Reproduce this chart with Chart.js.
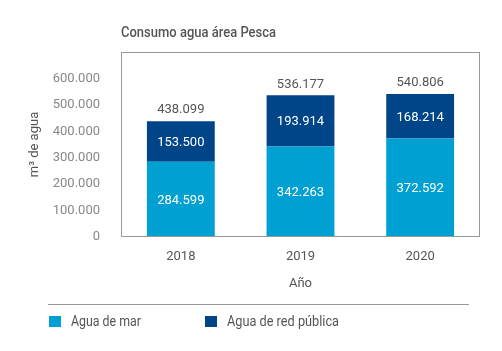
<!DOCTYPE html>
<html><head><meta charset="utf-8">
<script src="https://cdn.jsdelivr.net/npm/chart.js@4.4.0/dist/chart.umd.min.js"></script>
<style>
html,body{margin:0;padding:0;background:#fff;}
#wrap{position:relative;width:502px;height:351px;font-family:'Roboto',sans-serif;}
#c{position:absolute;left:0;top:0;}
#title{position:absolute;left:121px;top:24px;font-size:14px;line-height:17px;color:#555;font-weight:500;white-space:nowrap;transform-origin:0 0;}
#hr{position:absolute;left:48px;top:304px;width:421px;height:0;border-top:1px solid #999;}
.sq{position:absolute;top:316px;width:12px;height:11px;}
.lt{position:absolute;top:313px;font-size:14px;line-height:17px;color:#555;white-space:nowrap;transform-origin:0 0;}
</style></head>
<body><div id="wrap">
<canvas id="c" width="502" height="351"></canvas>
<div id="title" data-w="155">Consumo agua área Pesca</div>
<div id="hr"></div>
<div class="sq" style="left:49px;background:#00A0D3"></div>
<div class="lt" style="left:71px" data-w="70">Agua de mar</div>
<div class="sq" style="left:205px;background:#004587"></div>
<div class="lt" style="left:227px" data-w="112">Agua de red pública</div>
</div>
<script>
const categories = ['2018', '2019', '2020'];
const aguaMar = [284599, 342263, 372592];
const aguaRed = [153500, 193914, 168214];
const yTicks = [0, 100000, 200000, 300000, 400000, 500000, 600000];
const seriesNames = ['Agua de mar', 'Agua de red pública'];

// condense HTML text to the reference widths
document.querySelectorAll('[data-w]').forEach(el => {
  const w = el.getBoundingClientRect().width;
  const target = parseFloat(el.dataset.w);
  el.style.transform = 'scaleX(' + (target / w).toFixed(3) + ')';
});

const FONT = "'Roboto',sans-serif";
function fmt(v){ return String(Math.round(v)).replace(/\B(?=(\d{3})+(?!\d))/g, '.'); }

const boxPlugin = {
  id: 'box',
  afterDraw(chart){
    const {ctx, chartArea:a} = chart;
    ctx.save();
    ctx.strokeStyle = '#999';
    ctx.lineWidth = 1;
    ctx.strokeRect(Math.round(a.left)+0.5, Math.round(a.top)+0.5, Math.round(a.right-a.left)-1, Math.round(a.bottom-a.top)-1);
    ctx.restore();
  }
};
const labelPlugin = {
  id: 'labels',
  afterDatasetsDraw(chart){
    const ctx = chart.ctx;
    ctx.save();
    ctx.textAlign = 'center';
    ctx.textBaseline = 'middle';
    ctx.font = '13px ' + FONT;
    ctx.fillStyle = '#fff';
    chart.data.datasets.forEach((ds, di) => {
      chart.getDatasetMeta(di).data.forEach((bar, i) => {
        const mid = (bar.y + bar.base) / 2;
        ctx.fillText(fmt(ds.data[i]), bar.x, mid + 1);
      });
    });
    ctx.fillStyle = '#555';
    chart.getDatasetMeta(1).data.forEach((bar, i) => {
      const total = aguaMar[i] + aguaRed[i];
      ctx.fillText(fmt(total), bar.x, bar.y - 11);
    });
    ctx.restore();
  }
};

new Chart(document.getElementById('c'), {
  type: 'bar',
  data: {
    labels: categories,
    datasets: [
      {label: seriesNames[0], data: aguaMar, backgroundColor: '#00A0D3'},
      {label: seriesNames[1], data: aguaRed, backgroundColor: '#004587'}
    ]
  },
  options: {
    responsive: false,
    animation: false,
    devicePixelRatio: 1,
    layout: {padding: {top: 52, right: 22, bottom: 59, left: 0}},
    plugins: {legend: {display: false}, tooltip: {enabled: false}, title: {display: false}},
    datasets: {bar: {categoryPercentage: 1, barPercentage: 0.567}},
    scales: {
      x: {
        stacked: true,
        grid: {display: false, drawTicks: false},
        border: {display: false},
        ticks: {color: '#555', font: {family: FONT, size: 13}, padding: 12},
        title: {display: true, text: 'Año', color: '#555', font: {family: FONT, size: 13}, padding: {top: 4, bottom: 0}},
        afterFit(s){ s.height = 55; }
      },
      y: {
        stacked: true,
        min: 0, max: 700000,
        afterBuildTicks(s){ s.ticks = yTicks.map(v => ({value: v})); },
        grid: {display: false, drawTicks: false},
        border: {display: false},
        ticks: {color: '#888', font: {family: FONT, size: 13}, padding: 21, callback: v => fmt(v)},
        title: {display: true, text: 'm³ de agua', color: '#555', font: {family: FONT, size: 13}, padding: {top: 27, bottom: 0}},
        afterFit(s){ s.width = 121; }
      }
    }
  },
  plugins: [boxPlugin, labelPlugin]
});
</script>
</body></html>
